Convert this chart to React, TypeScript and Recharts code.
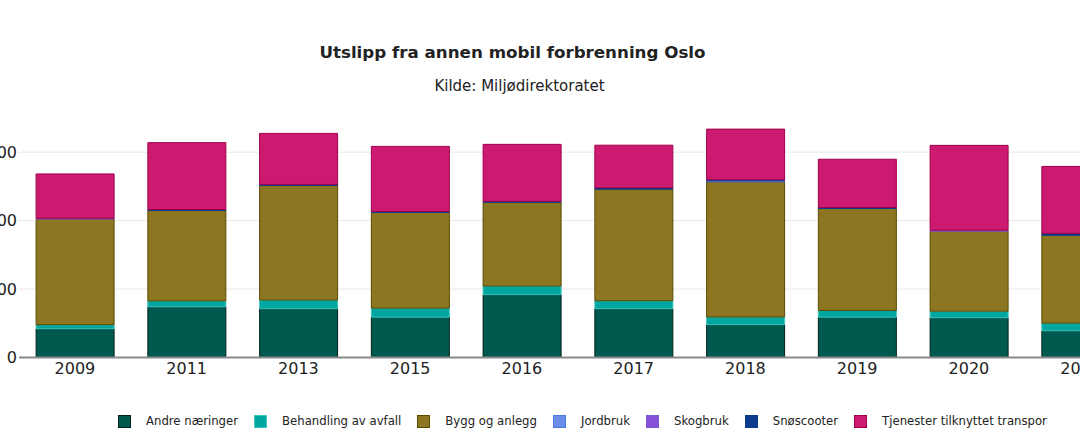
import React from 'react';
import { BarChart, Bar, XAxis, YAxis, CartesianGrid } from 'recharts';

const years = ['2009', '2011', '2013', '2015', '2016', '2017', '2018', '2019', '2020', '2021'];
const andreNaeringer = [840, 1480, 1425, 1180, 1835, 1425, 960, 1180, 1160, 780];
const behandlingAvfall = [120, 175, 255, 265, 255, 235, 225, 195, 195, 225];
const byggOgAnlegg = [3085, 2640, 3350, 2795, 2445, 3260, 3950, 2980, 2335, 2570];
const jordbruk = [0, 0, 0, 0, 0, 0, 30, 0, 0, 0];
const skogbruk = [25, 0, 0, 0, 0, 0, 0, 0, 30, 0];
const snoscooter = [0, 30, 30, 30, 30, 40, 30, 30, 0, 55];
const tjenester = [1295, 1955, 1490, 1900, 1665, 1245, 1480, 1410, 2480, 1955];
const yTicks = [0, 2000, 4000, 6000];

const series = [
  { key: 'andre', name: 'Andre næringer', values: andreNaeringer, fill: '#00594f', stroke: '#00201c' },
  { key: 'behandling', name: 'Behandling av avfall', values: behandlingAvfall, fill: '#00a6a0', stroke: '#3cc4bd' },
  { key: 'bygg', name: 'Bygg og anlegg', values: byggOgAnlegg, fill: '#8c7621', stroke: '#5a4a00' },
  { key: 'jordbruk', name: 'Jordbruk', values: jordbruk, fill: '#6b8fe8', stroke: '#4a78e0' },
  { key: 'skogbruk', name: 'Skogbruk', values: skogbruk, fill: '#8852d8', stroke: '#7a5ad0' },
  { key: 'snoscooter', name: 'Snøscooter', values: snoscooter, fill: '#0b3c8e', stroke: '#0b3c8e' },
  { key: 'tjenester', name: 'Tjenester tilknyttet transpor', values: tjenester, fill: '#cc1a70', stroke: '#a0004a' },
];

const data = years.map((year, i) => {
  const row: Record<string, any> = { year };
  series.forEach((s) => {
    row[s.key] = s.values[i];
  });
  return row;
});

const FONT = '"DejaVu Sans", Verdana, sans-serif';

export default function App() {
  return (
    <div
      style={{
        position: 'fixed',
        left: 0,
        top: 0,
        width: 1080,
        height: 447,
        overflow: 'hidden',
        background: '#ffffff',
        fontFamily: FONT,
        color: '#222',
      }}
    >
      <div
        style={{
          position: 'absolute',
          left: 0,
          top: 43,
          width: 1025,
          textAlign: 'center',
          fontSize: 16.7,
          fontWeight: 'bold',
          lineHeight: '19px',
          whiteSpace: 'nowrap',
        }}
      >
        Utslipp fra annen mobil forbrenning Oslo
      </div>
      <div
        style={{
          position: 'absolute',
          left: 0,
          top: 77,
          width: 1039,
          textAlign: 'center',
          fontSize: 15,
          lineHeight: '18px',
          whiteSpace: 'nowrap',
        }}
      >
        Kilde: Miljødirektoratet
      </div>
      <div style={{ position: 'absolute', left: -41.3, top: 0 }}>
        <BarChart
          width={1177.5}
          height={400}
          data={data}
          margin={{ top: 118, right: 0, bottom: 0, left: 0 }}
          barCategoryGap="15.3%"
        >
          <CartesianGrid vertical={false} stroke="#e8e8e8" horizontalValues={yTicks} />
          <XAxis
            dataKey="year"
            height={42.5}
            axisLine={{ stroke: '#8a8a8a', strokeWidth: 2 }}
            tickLine={false}
            tickSize={0}
            tickMargin={5}
            tick={{ fill: '#222', fontSize: 16, fontFamily: FONT }}
            interval={0}
          />
          <YAxis
            width={60}
            domain={[0, 7000]}
            ticks={yTicks}
            axisLine={false}
            tickLine={false}
            tickSize={0}
            tickMargin={2}
            tick={{ fill: '#222', fontSize: 16, fontFamily: FONT }}
          />
          {series.map((s) => (
            <Bar
              key={s.key}
              dataKey={s.key}
              name={s.name}
              stackId="a"
              fill={s.fill}
              stroke={s.stroke}
              strokeWidth={1}
              isAnimationActive={false}
            />
          ))}
        </BarChart>
      </div>
      <div
        style={{
          position: 'absolute',
          left: 118,
          top: 413,
          display: 'flex',
          alignItems: 'center',
          whiteSpace: 'nowrap',
          fontSize: 11.7,
          lineHeight: '16px',
        }}
      >
        {series.map((s) => (
          <div key={s.key} style={{ display: 'flex', alignItems: 'center', marginRight: 16 }}>
            <div
              style={{
                width: 11,
                height: 11,
                background: s.fill,
                border: '1px solid ' + s.stroke,
                marginRight: 15,
              }}
            />
            <span>{s.name}</span>
          </div>
        ))}
      </div>
    </div>
  );
}
